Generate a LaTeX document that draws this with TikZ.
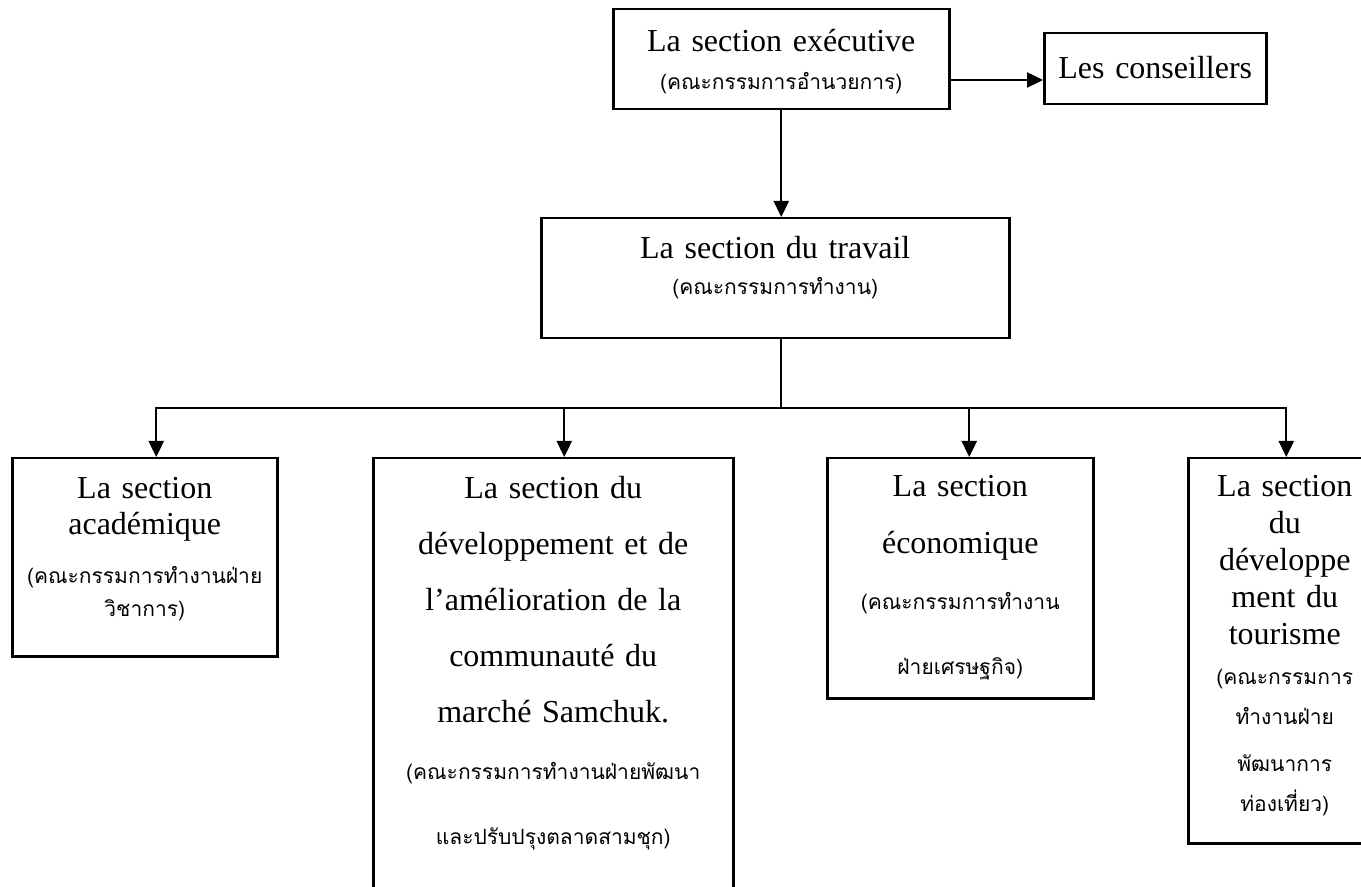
\documentclass[tikz,border=0pt]{standalone}
\usepackage{fontspec}
\setmainfont{Liberation Serif}
\newfontfamily\thaifont[Script=Thai]{Loma}
\usetikzlibrary{arrows.meta}
\tikzset{
	>={Triangle[length=8pt,width=7.5pt]}, % punta de flecha rellena
	box/.style={draw, line width=1.25pt, anchor=north west, inner sep=0pt,
		align=center, font=\fontsize{16}{18.5}\selectfont}, % recuadro de cada seccion
	link/.style={->, line width=1.2pt} % arcos entre secciones
}
\newcommand{\thaitext}[1]{{\thaifont\fontsize{10.5}{18.5}\selectfont #1}}

\begin{document}
\begin{tikzpicture}[x=0.5pt, y=-0.5pt]
	\useasboundingbox (0,0) rectangle (1361,887);
	\clip (0,0) rectangle (1361,887);
	\node[box, text width=168pt, text height=21pt, text depth=29pt] (exec) at (612,8)
		{La section exécutive\\[0.5pt]\thaitext{(คณะกรรมการอำนวยการ)}};
	\node[box, text width=111pt, text height=22.5pt, text depth=13pt] (cons) at (1043,32)
		{Les conseillers};
	\node[box, text width=234pt, text height=20pt, text depth=40pt] (work) at (540,217)
		{La section du travail\\[-0.5pt]\thaitext{(คณะกรรมการทำงาน)}};
	\node[box, text width=132.5pt, text height=20pt, text depth=79pt] (acad) at (11,457)
		{La section\\[-0.5pt]académique\\[6pt]\thaitext{(คณะกรรมการทำงานฝ่าย}\\[-2pt]\thaitext{วิชาการ)}};
	\node[box, text width=180pt, text height=20pt, text depth=201.5pt] (dev) at (372,457)
		{La section du\\[9.5pt]développement et de\\[9.5pt]l’amélioration de la\\[9.5pt]communauté du\\[9.5pt]marché Samchuk.\\[10pt]\thaitext{(คณะกรรมการทำงานฝ่ายพัฒนา}\\[14pt]\thaitext{และปรับปรุงตลาดสามชุก)}};
	\node[box, text width=133pt, text height=19pt, text depth=101pt] (eco) at (826,457)
		{La section\\[10pt]économique\\[9.5pt]\thaitext{(คณะกรรมการทำงาน}\\[14pt]\thaitext{ฝ่ายเศรษฐกิจ)}};
	\node[box, text width=96.5pt, text height=19pt, text depth=173.5pt] (tour) at (1187,457)
		{La section\\du\\développe\\ment du\\tourisme\\[1.5pt]\thaitext{(คณะกรรมการ}\\[1.5pt]\thaitext{ทำงานฝ่าย}\\[5pt]\thaitext{พัฒนาการ}\\[1.5pt]\thaitext{ท่องเที่ยว)}};
	% arcos
	\draw[link] (exec.south) -- (exec.south |- work.north);
	\draw[link] (exec.east |- 0,80) -- (cons.west |- 0,80);
	\coordinate (split) at (exec.south |- 0,408);
	\draw[line width=1.2pt] (split |- work.south) -- (split);
	\foreach \n/\dx in {acad/5.75pt, dev/5.5pt, eco/4.5pt, tour/0.75pt}
		\draw[link] (split) -| ([xshift=\dx]\n.north);
\end{tikzpicture}
\end{document}
